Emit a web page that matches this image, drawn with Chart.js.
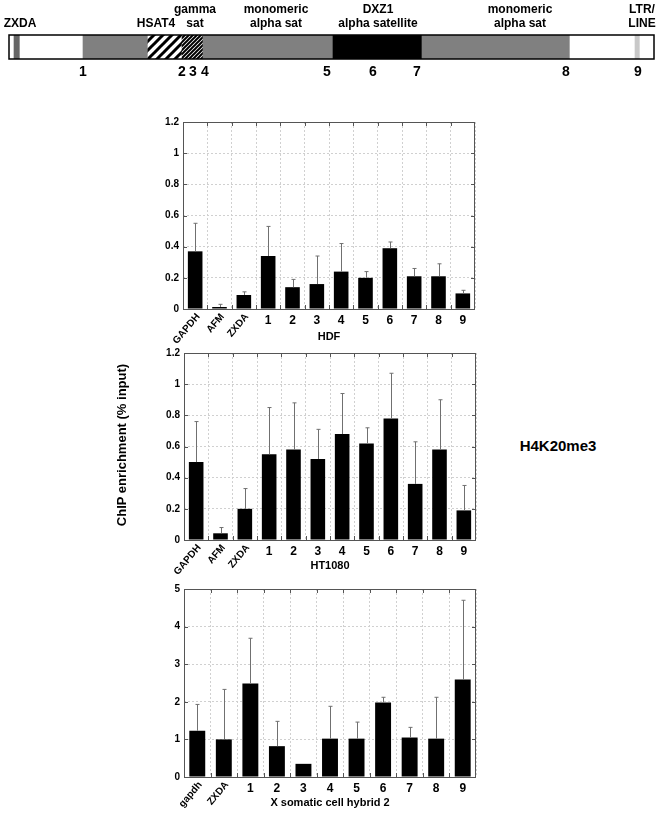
<!DOCTYPE html>
<html>
<head>
<meta charset="utf-8">
<script src="https://cdn.jsdelivr.net/npm/chart.js@4.4.0/dist/chart.umd.min.js"></script>
<style>
body{margin:0;background:#fff;width:662px;height:813px;position:relative;overflow:hidden;font-family:"Liberation Sans",Arial,sans-serif}
canvas{position:absolute}
.txt{position:absolute;font-weight:bold;white-space:nowrap;color:#000}
#yTitle{left:121px;top:445px;font-size:13px;transform:translate(-50%,-50%) rotate(-90deg)}
#mark{left:558px;top:445px;font-size:15px;transform:translate(-50%,-50%)}
</style>
</head>
<body>
<canvas id="map" width="662" height="80" style="left:0;top:0"></canvas>
<canvas id="c1" width="355" height="233" style="left:130px;top:112px"></canvas>
<canvas id="c2" width="355" height="233" style="left:131px;top:343px"></canvas>
<canvas id="c3" width="355" height="234" style="left:131px;top:579px"></canvas>
<div class="txt" id="yTitle">ChIP enrichment (% input)</div>
<div class="txt" id="mark">H4K20me3</div>
<script>
// chromosome map (x units = offset along the bar)
var segStart = [5, 11, 74, 139, 173, 194, 324, 413, 561, 626, 631];
var segEnd   = [11, 74, 139, 173, 194, 324, 413, 561, 626, 631, 645];
var segFill  = ['#666', '#fff', '#808080', 'hsat', 'gamma', '#808080', '#000', '#808080', '#fff', '#c8c8c8', '#fff'];
var markerNames = ['1', '2', '3', '4', '5', '6', '7', '8', '9'];
var markerPos   = [74, 173, 184, 196, 318, 364, 408, 557, 629];
var regionTop   = ['', '', 'gamma', 'monomeric', 'DXZ1', 'monomeric', 'LTR/'];
var regionBot   = ['ZXDA', 'HSAT4', 'sat', 'alpha sat', 'alpha satellite', 'alpha sat', 'LINE'];
var regionPos   = [11, 147, 186, 267, 369, 511, 633];

// HDF
var hdfLabels = ['GAPDH', 'AFM', 'ZXDA', '1', '2', '3', '4', '5', '6', '7', '8', '9'];
var hdfValues = [0.37, 0.013, 0.09, 0.34, 0.14, 0.16, 0.24, 0.20, 0.39, 0.21, 0.21, 0.10];
var hdfErrTop = [0.55, 0.03, 0.11, 0.53, 0.19, 0.34, 0.42, 0.24, 0.43, 0.26, 0.29, 0.12];
// HT1080
var htLabels = ['GAPDH', 'AFM', 'ZXDA', '1', '2', '3', '4', '5', '6', '7', '8', '9'];
var htValues = [0.50, 0.043, 0.20, 0.55, 0.58, 0.52, 0.68, 0.62, 0.78, 0.36, 0.58, 0.19];
var htErrTop = [0.76, 0.08, 0.33, 0.85, 0.88, 0.71, 0.94, 0.72, 1.07, 0.63, 0.90, 0.35];
// X somatic cell hybrid 2
var hybLabels = ['gapdh', 'ZXDA', '1', '2', '3', '4', '5', '6', '7', '8', '9'];
var hybValues = [1.23, 1.00, 2.49, 0.82, 0.35, 1.02, 1.02, 1.98, 1.05, 1.02, 2.59];
var hybErrTop = [1.93, 2.33, 3.69, 1.48, null, 1.88, 1.46, 2.12, 1.32, 2.12, 4.70];

var FONT = '"Liberation Sans", Arial, sans-serif';

function hatch(step, lw){
  var c = document.createElement('canvas');
  c.width = step; c.height = step;
  var g = c.getContext('2d');
  g.fillStyle = '#fff'; g.fillRect(0, 0, step, step);
  g.strokeStyle = '#000'; g.lineWidth = lw;
  g.beginPath();
  g.moveTo(-1, step + 1); g.lineTo(step + 1, -1);
  g.moveTo(-1, 1); g.lineTo(1, -1);
  g.moveTo(step - 1, step + 1); g.lineTo(step + 1, step - 1);
  g.stroke();
  return document.getElementById('map').getContext('2d').createPattern(c, 'repeat');
}
var patterns = {hsat: hatch(9, 3), gamma: hatch(4, 2)};

var mapText = {
  id: 'mapText',
  afterDraw: function(chart){
    var ctx = chart.ctx, a = chart.chartArea, x = chart.scales.x;
    ctx.save();
    ctx.strokeStyle = '#000'; ctx.lineWidth = 1.5;
    ctx.strokeRect(a.left, a.top, a.right - a.left, a.bottom - a.top);
    ctx.fillStyle = '#000';
    ctx.textAlign = 'center'; ctx.textBaseline = 'middle';
    ctx.font = 'bold 14px ' + FONT;
    markerNames.forEach(function(n, i){ ctx.fillText(n, x.getPixelForValue(markerPos[i]), 72); });
    ctx.font = 'bold 12px ' + FONT;
    regionPos.forEach(function(p, i){
      var px = x.getPixelForValue(p);
      if(regionTop[i]) ctx.fillText(regionTop[i], px, 10);
      ctx.fillText(regionBot[i], px, 24);
    });
    ctx.restore();
  }
};

new Chart(document.getElementById('map'), {
  type: 'bar',
  data: {
    labels: ['X'],
    datasets: [{
      data: segStart.map(function(s, i){ return {x: [s, segEnd[i]], y: 'X'}; }),
      backgroundColor: segFill.map(function(f){ return patterns[f] || f; }),
      borderWidth: 0,
      barPercentage: 1,
      categoryPercentage: 1
    }]
  },
  options: {
    indexAxis: 'y',
    responsive: false,
    animation: false,
    devicePixelRatio: 1,
    layout: {padding: {left: 9, right: 8, top: 35, bottom: 21}},
    plugins: {legend: {display: false}, tooltip: {enabled: false}},
    scales: {
      x: {display: false, min: 0, max: 645},
      y: {display: false}
    }
  },
  plugins: [mapText]
});

var errorBars = {
  id: 'errorBars',
  afterDatasetsDraw: function(chart){
    var ctx = chart.ctx, y = chart.scales.y;
    var tops = chart.options.plugins.errorBars.tops;
    var meta = chart.getDatasetMeta(0);
    ctx.save();
    ctx.strokeStyle = '#707070'; ctx.lineWidth = 1;
    meta.data.forEach(function(bar, i){
      if(tops[i] == null) return;
      var px = Math.round(bar.x) + 0.5, yt = y.getPixelForValue(tops[i]);
      ctx.beginPath();
      ctx.moveTo(px, bar.y); ctx.lineTo(px, yt);
      ctx.moveTo(px - 2, yt); ctx.lineTo(px + 2, yt);
      ctx.stroke();
    });
    ctx.restore();
  }
};

var frame = {
  id: 'frame',
  afterDraw: function(chart){
    var ctx = chart.ctx, a = chart.chartArea, x = chart.scales.x, y = chart.scales.y;
    var o = chart.options.plugins.frame;
    ctx.save();
    ctx.strokeStyle = '#555'; ctx.lineWidth = 1;
    ctx.strokeRect(a.left + 0.5, a.top + 0.5, a.right - a.left - 1, a.bottom - a.top);
    ctx.beginPath();
    var n = x.ticks.length;
    for(var i = 1; i < n; i++){
      var gx = Math.round(x.left + (x.right - x.left) * i / n) + 0.5;
      ctx.moveTo(gx, a.top); ctx.lineTo(gx, a.top + 4);
      ctx.moveTo(gx, a.bottom); ctx.lineTo(gx, a.bottom - 4);
    }
    y.ticks.forEach(function(t){
      var gy = Math.round(y.getPixelForValue(t.value)) + 0.5;
      ctx.moveTo(a.left, gy); ctx.lineTo(a.left + 4, gy);
      ctx.moveTo(a.right, gy); ctx.lineTo(a.right - 4, gy);
    });
    ctx.stroke();

    // category labels: names rotated, region numbers upright
    ctx.fillStyle = '#000';
    chart.data.labels.forEach(function(lab, i){
      var px = x.getPixelForValue(i);
      if(/^\d+$/.test(lab)){
        ctx.font = 'bold 12px ' + FONT;
        ctx.textAlign = 'center'; ctx.textBaseline = 'top';
        ctx.fillText(lab, px, a.bottom + 6);
      } else {
        ctx.save();
        ctx.font = 'bold 10px ' + FONT;
        ctx.translate(px + 3, a.bottom + 6);
        ctx.rotate(-50 * Math.PI / 180);
        ctx.textAlign = 'right'; ctx.textBaseline = 'middle';
        ctx.fillText(lab, 0, 0);
        ctx.restore();
      }
    });
    ctx.font = 'bold 11px ' + FONT;
    ctx.textAlign = 'center'; ctx.textBaseline = 'middle';
    ctx.fillText(o.title, (a.left + a.right) / 2, a.bottom + o.titleGap);
    ctx.restore();
  }
};

function barChart(id, labels, values, tops, max, step, title, titleGap, yWidth){
  return new Chart(document.getElementById(id), {
    type: 'bar',
    data: {
      labels: labels,
      datasets: [{
        data: values,
        backgroundColor: '#000',
        borderWidth: 0,
        barPercentage: 0.6,
        categoryPercentage: 1
      }]
    },
    options: {
      responsive: false,
      animation: false,
      devicePixelRatio: 1,
      layout: {padding: {top: 10, right: 10, bottom: 36}},
      plugins: {
        legend: {display: false},
        tooltip: {enabled: false},
        errorBars: {tops: tops},
        frame: {title: title, titleGap: titleGap}
      },
      scales: {
        x: {
          ticks: {display: false},
          border: {display: false, dash: [2, 2]},
          grid: {offset: true, color: '#d0d0d0', drawTicks: false},
          afterFit: function(s){ s.height = 0; }
        },
        y: {
          min: 0, max: max,
          ticks: {
            stepSize: step, padding: 4, color: '#000',
            font: {family: FONT, size: 10, weight: 'bold'},
            callback: function(v){ return String(Math.round(v * 10) / 10); }
          },
          border: {display: false, dash: [2, 2]},
          grid: {color: '#d0d0d0', drawTicks: false},
          afterFit: function(s){ s.width = yWidth; }
        }
      }
    },
    plugins: [errorBars, frame]
  });
}

barChart('c1', hdfLabels, hdfValues, hdfErrTop, 1.2, 0.2, 'HDF', 28, 53);
barChart('c2', htLabels, htValues, htErrTop, 1.2, 0.2, 'HT1080', 26, 53);
barChart('c3', hybLabels, hybValues, hybErrTop, 5, 1, 'X somatic cell hybrid 2', 26, 53);
</script>
</body>
</html>
